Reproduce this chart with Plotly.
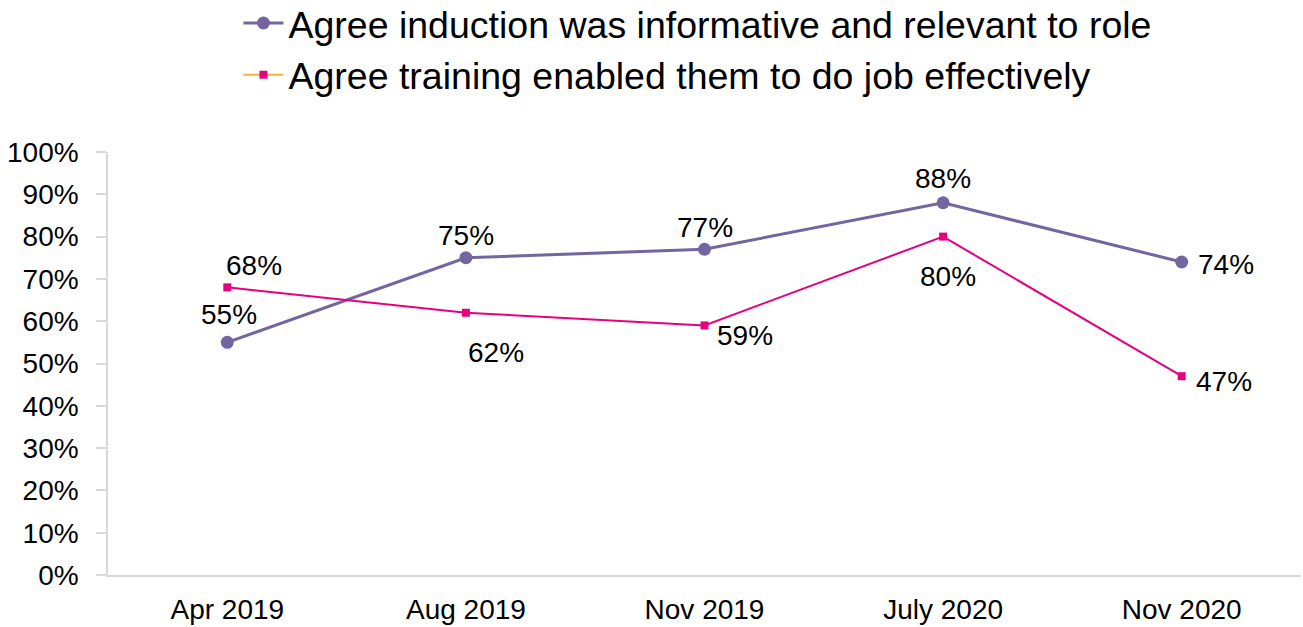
import plotly.graph_objects as go

# Survey waves and agreement rates (%)
periods = ["Apr 2019", "Aug 2019", "Nov 2019", "July 2020", "Nov 2020"]
induction = [55, 75, 77, 88, 74]
training = [68, 62, 59, 80, 47]

induction_name = "Agree induction was informative and relevant to role"
training_name = "Agree training enabled them to do job effectively"

PURPLE = "#7366A0"
PINK = "#E6007E"
ORANGE = "#F5B335"
GRID = "#D9D9D9"
FONT = "Liberation Sans, Arial, sans-serif"

fig = go.Figure()

fig.add_trace(go.Scatter(
    x=periods, y=induction, mode="lines+markers", showlegend=False,
    line=dict(color=PURPLE, width=3),
    marker=dict(symbol="circle", size=13, color=PURPLE),
))
fig.add_trace(go.Scatter(
    x=periods, y=training, mode="lines+markers", showlegend=False,
    line=dict(color=PINK, width=2),
    marker=dict(symbol="square", size=8, color=PINK),
))

# legend keys
fig.add_trace(go.Scatter(
    x=[None], y=[None], mode="lines+markers", name=induction_name,
    line=dict(color=PURPLE, width=3),
    marker=dict(symbol="circle", size=13, color=PURPLE),
))
fig.add_trace(go.Scatter(
    x=[None], y=[None], mode="lines+markers", name=training_name,
    line=dict(color=ORANGE, width=2),
    marker=dict(symbol="square", size=8, color=PINK),
))

# value label offsets in pixels (dx, dy)
induction_offsets = [(2, 28), (0, 22), (0, 22), (0, 24), (44, -3)]
training_offsets = [(27, 22), (30, -40), (40, -10), (5, -40), (42, -5)]

annotations = []
for series, offs in ((induction, induction_offsets), (training, training_offsets)):
    for p, v, (dx, dy) in zip(periods, series, offs):
        annotations.append(dict(
            x=p, y=v, xref="x", yref="y", text=f"{v}%", showarrow=False,
            xshift=dx, yshift=dy, font=dict(size=28, color="#000000", family=FONT),
        ))

fig.update_layout(
    width=1303, height=627,
    margin=dict(l=108, r=2, t=152, b=52, autoexpand=False),
    paper_bgcolor="white", plot_bgcolor="white",
    font=dict(family=FONT, color="#000000", size=28),
    annotations=annotations,
    legend=dict(
        x=0.183, y=1.378, xref="container", yref="paper",
        xanchor="left", yanchor="top",
        font=dict(size=37.5, family=FONT, color="#000000"),
        itemwidth=40, tracegroupgap=0,
        bgcolor="rgba(0,0,0,0)",
    ),
    xaxis=dict(
        type="category", range=[-0.5, 4.5],
        showline=True, linecolor=GRID, linewidth=1.5,
        showgrid=False, zeroline=False, ticks="", tickangle=0,
        ticklabelstandoff=9,
        tickfont=dict(size=28, family=FONT, color="#000000"),
    ),
    yaxis=dict(
        range=[0, 100], dtick=10, ticksuffix="%",
        showline=True, linecolor=GRID, linewidth=1.5,
        ticks="outside", ticklen=10, tickcolor=GRID, tickwidth=1.5,
        ticklabelstandoff=12,
        showgrid=False, zeroline=False,
        tickfont=dict(size=28, family=FONT, color="#000000"),
    ),
)

fig.write_html("out.html")
